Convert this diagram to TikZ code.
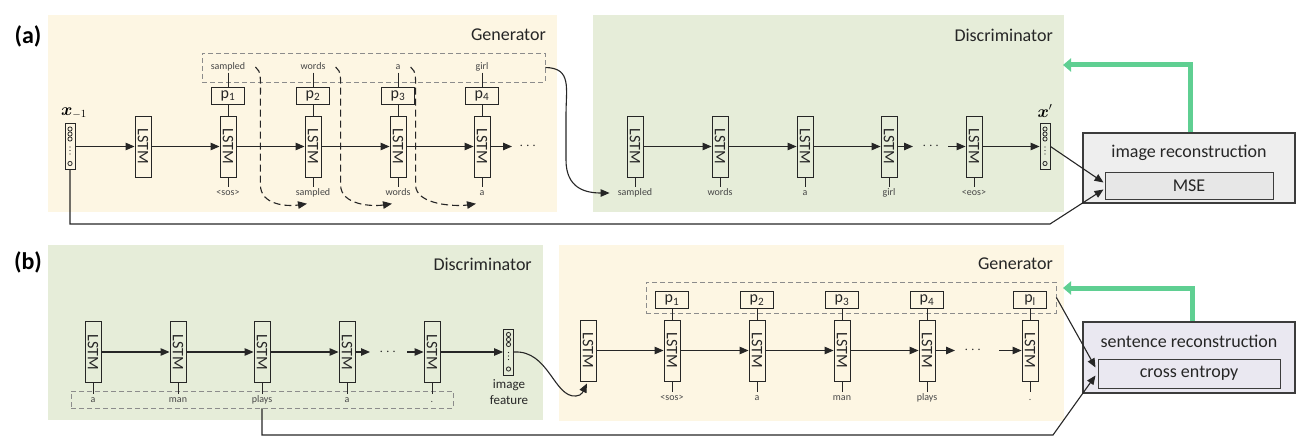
\documentclass[tikz,border=0pt]{standalone}
\usepackage{fontspec}
\setmainfont{Carlito}
\usepackage{amsmath,bm,graphicx}
\usetikzlibrary{arrows.meta,calc}
\definecolor{genbg}{HTML}{FDF6E3}
\definecolor{disbg}{HTML}{E6EDD9}
\definecolor{recgray}{HTML}{EEEEEE}
\definecolor{msegray}{HTML}{E7E7E7}
\definecolor{lav}{HTML}{EAE8F1}
\definecolor{fbgreen}{HTML}{5FCF92}
\definecolor{ink}{HTML}{262626}
\tikzset{
  lstm/.style={draw=ink, line width=0.9pt, minimum width=16pt, minimum height=61pt, inner sep=0pt, font=\fontsize{16}{16}\selectfont, text=ink},
  pbox/.style={draw=ink, line width=0.9pt, minimum width=33pt, minimum height=17pt, inner sep=0pt, font=\fontsize{16}{16}\selectfont, text=ink},
  word/.style={inner sep=1pt, text height=7pt, text depth=2pt, font=\fontsize{10}{10}\selectfont, text=ink!85},
  title/.style={inner sep=0pt, font=\fontsize{18}{18}\selectfont, text=ink},
  panel/.style={inner sep=0pt, font=\fontsize{24}{24}\selectfont\bfseries, text=black},
  flow/.style={line width=1.1pt, draw=ink, -{Triangle[length=9pt,width=7.5pt]}},
  dflow/.style={line width=1.1pt, draw=ink, dash pattern=on 7pt off 4pt, -{Triangle[length=9pt,width=7.5pt]}},
  conn/.style={line width=1pt, draw=ink},
  dbox/.style={draw=black!45, dash pattern=on 5pt off 3pt, line width=0.8pt, inner sep=0pt},
  fb/.style={line width=5pt, draw=fbgreen, -{Triangle[length=8pt,width=13pt]}},
  vec/.style={draw=ink, line width=0.9pt, minimum width=10pt, minimum height=46pt, inner sep=0pt},
  dotsnode/.style={inner sep=0pt, font=\fontsize{14}{14}\selectfont, text=ink},
  recbox/.style={draw=ink!90, line width=1.1pt, inner sep=0pt},
}
\newcommand{\vecdeco}[1]{%
  \foreach \o in {-17.5,-12.5,-7.5,17} \draw[line width=0.8pt,ink] ($(#1.center)+(0,\o)$) circle (2.1pt);
  \foreach \o in {0.5,4,7.5} \fill[ink] ($(#1.center)+(0,\o)$) circle (0.7pt);
}
\begin{document}
\begin{tikzpicture}[x=1pt,y=-1pt]
\useasboundingbox (0,0) rectangle (1316,441);
% ---------------- backgrounds
\fill[genbg] (48,15) rectangle (557,212);
\fill[disbg] (593,15) rectangle (1064,212);
\fill[disbg] (48,245) rectangle (543,420);
\fill[genbg] (559,245) rectangle (1064,421);

% ================= panel (a)
\node[panel] (la) at (28,36) {(a)};
\node[title,anchor=east] (tga) at (546,35) {Generator};
\node[title,anchor=east] (tda) at (1053,35) {Discriminator};

\node[dbox, minimum width=343pt, minimum height=29pt] (boxA) at (373.5,67.5) {};

\node[vec] (xm) at (70,146.5) {};
\vecdeco{xm}
\node[inner sep=0pt, font=\fontsize{16}{16}\selectfont] (xml) at (74,113) {$\bm{x}_{-1}$};

\node[lstm] (ga0) at (143,146.5) {\rotatebox{-90}{LSTM}};
\foreach \i/\x/\w/\b in {1/228/sampled/<sos>,2/313/words/sampled,3/398/a/words,4/482/girl/a}{
  \node[lstm] (ga\i) at (\x,146.5) {\rotatebox{-90}{LSTM}};
  \node[word] (wt\i) at (\x,67) {\w};
  \node[pbox] (p\i) at (\x,95.5) {p\textsubscript{\i}};
  \node[word] (wb\i) at (\x,193) {\b};
  \draw[conn] (wt\i) -- (p\i);
  \draw[conn] (p\i) -- (ga\i);
  \draw[conn] (ga\i) -- (wb\i);
}
\draw[flow] (xm) -- (ga0);
\foreach \i/\j in {0/1,1/2,2/3,3/4} \draw[flow] (ga\i) -- (ga\j);
\coordinate (ea) at (512,146.5);
\draw[flow] (ga4) -- (ea);
\node[dotsnode] (dta) at (529,146.5) {$\cdots$};

% dashed feedback of sampled words
\foreach \i/\j in {1/2,2/3,3/4}{
  \draw[dflow] ($(wt\i.east)+(9,0)$) .. controls +(6,4) and +(0,-15) .. ++(5,28) -- ++(0,90)
     .. controls +(0,20) and +(-20,3) .. ($(wb\j.south)+(-6,5)$);
}

% discriminator (a)
\foreach \i/\x/\w in {1/635/sampled,2/720/words,3/805/a,4/889/girl,5/974/<eos>}{
  \node[lstm] (da\i) at (\x,146.5) {\rotatebox{-90}{LSTM}};
  \node[word] (ds\i) at (\x,193) {\w};
  \draw[conn] (da\i) -- (ds\i);
}
\foreach \i/\j in {1/2,2/3,3/4} \draw[flow] (da\i) -- (da\j);
\coordinate (ca1) at (913,146.5);
\coordinate (cb1) at (948,146.5);
\draw[flow] (da4) -- (ca1);
\node[dotsnode] (dtb) at (932,146.5) {$\cdots$};
\draw[flow] (cb1) -- (da5);

\node[vec] (xp) at (1045,146.5) {};
\vecdeco{xp}
\node[inner sep=0pt, font=\fontsize{16}{16}\selectfont] (xpl) at (1045,111) {$\bm{x}'$};
\draw[flow] (da5) -- (xp);

\draw[flow] (boxA.east) .. controls (572,68) and (566,88) .. (566,115) -- (566,160)
   .. controls (566,188) and (585,193) .. ($(ds1.west)+(-7,0)$);

% image reconstruction
\node[recbox, fill=recgray, minimum width=212pt, minimum height=70pt] (ir) at (1189,168) {};
\node[title] (irt) at (1189,153) {image reconstruction};
\node[recbox, line width=1pt, fill=msegray, minimum width=168pt, minimum height=27pt, font=\fontsize{18}{18}\selectfont, text=ink] (mse) at (1189,185.5) {MSE};
\draw[flow] (xp.east) -- ($(mse.west)+(-1,-3)$);
\coordinate (bA) at (1050,224);
\draw[flow] (xm.south) |- (bA) -- ($(mse.west)+(-1,4)$);
\coordinate (fbA) at (1063,65);
\draw[fb] ($(ir.north)+(1,0)$) |- (fbA);

% ================= panel (b)
\node[panel] (lb) at (28,262) {(b)};
\node[title,anchor=east] (tdb) at (532,264) {Discriminator};
\node[title,anchor=east] (tgb) at (1053,264) {Generator};

\node[dbox, minimum width=382pt, minimum height=17pt] (boxB) at (262,399.5) {};
\foreach \i/\x/\w in {1/93/a,2/178/man,3/262/plays,4/347/a,5/432/.}{
  \node[lstm] (db\i) at (\x,352) {\rotatebox{-90}{LSTM}};
  \node[word] (dw\i) at (\x,400) {\w};
  \draw[conn] (db\i) -- (dw\i);
}
\foreach \i/\j in {1/2,2/3,3/4} \draw[flow] (db\i) -- (db\j);
\coordinate (cc1) at (370,352);
\coordinate (cd1) at (407,352);
\draw[flow] (db4) -- (cc1);
\node[dotsnode] (dtc) at (389,352) {$\cdots$};
\draw[flow] (cd1) -- (db5);
\node[vec] (iv) at (508.5,352) {};
\vecdeco{iv}
\draw[flow] (db5) -- (iv);
\node[inner sep=0pt, align=center, font=\fontsize{13}{16}\selectfont, text=ink] (ivl) at (509,392) {image\\feature};

% generator (b)
\node[dbox, minimum width=410pt, minimum height=31pt] (boxC) at (851,297.5) {};
\node[lstm] (gb0) at (588,350.5) {\rotatebox{-90}{LSTM}};
\foreach \i/\x/\w/\p in {1/672/<sos>/1,2/757/a/2,3/842/man/3,4/927/plays/4,5/1030/./l}{
  \node[lstm] (gb\i) at (\x,350.5) {\rotatebox{-90}{LSTM}};
  \node[pbox] (pb\i) at (\x,300) {p\textsubscript{\p}};
  \node[word] (gw\i) at (\x,398) {\w};
  \draw[conn] (pb\i) -- (gb\i);
  \draw[conn] (gb\i) -- (gw\i);
}
\foreach \i/\j in {0/1,1/2,2/3,3/4} \draw[flow] (gb\i) -- (gb\j);
\coordinate (ce1) at (955,350.5);
\coordinate (cf1) at (999,350.5);
\draw[flow] (gb4) -- (ce1);
\node[dotsnode] (dtd) at (974,350.5) {$\cdots$};
\draw[flow] (cf1) -- (gb5);

\draw[flow] (iv.east) .. controls +(35,-2) and +(-22,2) .. (576,396) .. controls +(6,0) and +(-3,6) .. ($(gb0.south)+(-1,2)$);

% sentence reconstruction
\node[recbox, fill=lav, minimum width=212pt, minimum height=71pt] (sr) at (1189,357.5) {};
\node[title] (srt) at (1189,341) {sentence reconstruction};
\node[recbox, line width=1pt, fill=lav, minimum width=182pt, minimum height=29pt, font=\fontsize{18}{18}\selectfont, text=ink] (ce) at (1189,373.5) {cross entropy};
\draw[flow] (boxC.east) -- ($(ce.west)+(-2,-6)$);
\coordinate (bB) at (1053,435);
\draw[flow] (boxB.south -| dw3) |- (bB) -- ($(ce.west)+(-2,2)$);
\coordinate (fbB) at (1063,288);
\draw[fb] ($(sr.north)+(3,0)$) |- (fbB);
\end{tikzpicture}
\end{document}
